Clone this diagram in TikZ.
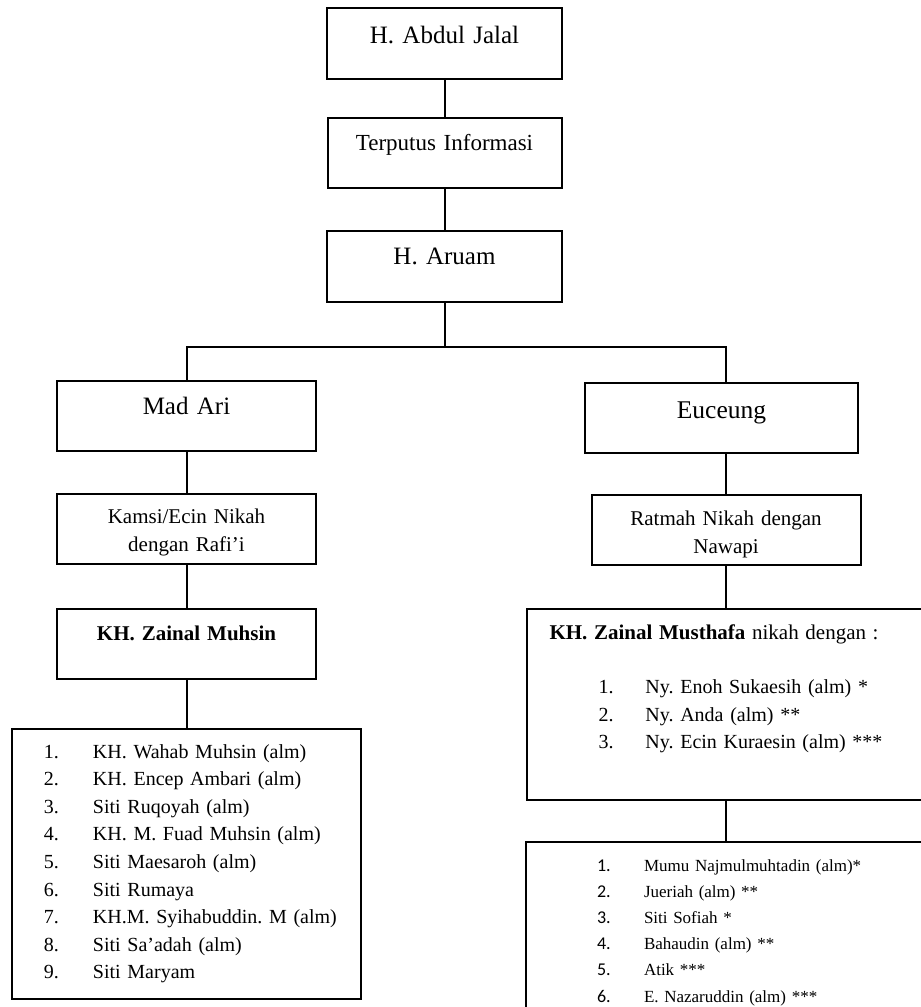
\documentclass[tikz,border=0pt]{standalone}
\usepackage{fontspec}
\setmainfont{Liberation Serif}
\newfontfamily\angka{Carlito}
\usetikzlibrary{positioning}
\frenchspacing
\tikzset{
    kotak/.style={draw, line width=2pt, inner sep=0pt, align=center}, % box round each name
    daftar/.style={kotak, align=left}, % box that holds a numbered list
    garis/.style={line width=2pt}, % plain connector line
}
% one line of a numbered list: indent, width of the number column, number, name
\newcommand{\butir}[4]{\hspace*{#1}\makebox[#2][l]{#3}#4}
\newcommand{\nomor}[1]{{\angka\fontsize{18}{26.2}\selectfont #1}}

\begin{document}
\begin{tikzpicture}[x=1pt, y=1pt]
    \useasboundingbox (0,0) rectangle (921,-1007);
    \clip (0,0) rectangle (921,-1007);
    \node[kotak, anchor=north west, text width=235pt, text height=35pt, text depth=36pt, font=\fontsize{25}{30}\selectfont] (abdul) at (326,-7) {H. Abdul Jalal};
    \node[kotak, below=37pt of abdul, text width=234pt, text height=32pt, text depth=38pt, font=\fontsize{23}{28}\selectfont] (terputus) {Terputus Informasi};
    \node[kotak, below=41pt of terputus, text width=235pt, text height=33pt, text depth=38pt, font=\fontsize{25}{30}\selectfont] (aruam) {H. Aruam};
    % left branch
    \node[kotak, anchor=north west, text width=259pt, text height=33pt, text depth=37pt, font=\fontsize{25}{30}\selectfont] (madari) at (56,-380) {Mad Ari};
    \node[kotak, below=41pt of madari, text width=259pt, text height=29pt, text depth=41pt, font=\fontsize{21}{28}\selectfont] (kamsi) {Kamsi/Ecin Nikah\\dengan Rafi’i};
    \node[kotak, below=43pt of kamsi, text width=259pt, text height=31pt, text depth=39pt, font=\fontsize{21}{28}\selectfont\bfseries] (muhsin) {KH. Zainal Muhsin};
    \node[daftar, below=48pt of muhsin, text width=349pt, text height=29pt, text depth=241pt, font=\fontsize{20}{27.6}\selectfont] (anakmuhsin) {%
        \butir{32pt}{49pt}{1.}{KH. Wahab Muhsin (alm)}\\
        \butir{32pt}{49pt}{2.}{KH. Encep Ambari (alm)}\\
        \butir{32pt}{49pt}{3.}{Siti Ruqoyah (alm)}\\
        \butir{32pt}{49pt}{4.}{KH. M. Fuad Muhsin (alm)}\\
        \butir{32pt}{49pt}{5.}{Siti Maesaroh (alm)}\\
        \butir{32pt}{49pt}{6.}{Siti Rumaya}\\
        \butir{32pt}{49pt}{7.}{KH.M. Syihabuddin. M (alm)}\\
        \butir{32pt}{49pt}{8.}{Siti Sa’adah (alm)}\\
        \butir{32pt}{49pt}{9.}{Siti Maryam}};
    % right branch
    \node[kotak, anchor=north west, text width=273pt, text height=35pt, text depth=35pt, font=\fontsize{25.5}{30}\selectfont] (euceung) at (584,-382) {Euceung};
    \node[kotak, below=40pt of euceung, xshift=4.5pt, text width=269pt, text height=30pt, text depth=40pt, font=\fontsize{21}{28}\selectfont] (ratmah) {Ratmah Nikah dengan\\Nawapi};
    \node[daftar, below=42pt of ratmah, text width=399pt, text height=30pt, text depth=161pt, font=\fontsize{20}{27.5}\selectfont] (musthafa) {%
        \hspace*{23pt}{\fontsize{21}{27.5}\selectfont\textbf{KH. Zainal Musthafa} nikah dengan :}\\[27pt]
        \butir{72pt}{47pt}{1.}{Ny. Enoh Sukaesih (alm) *}\\
        \butir{72pt}{47pt}{2.}{Ny. Anda (alm) **}\\
        \butir{72pt}{47pt}{3.}{Ny. Ecin Kuraesin (alm) ***}};
    \node[daftar, below=40pt of musthafa, text width=400pt, text height=29pt, text depth=176pt, font=\fontsize{17}{26.2}\selectfont] (anakmusthafa) {%
        \butir{71pt}{47pt}{\nomor{1.}}{Mumu Najmulmuhtadin (alm)*}\\
        \butir{71pt}{47pt}{\nomor{2.}}{Jueriah (alm) **}\\
        \butir{71pt}{47pt}{\nomor{3.}}{Siti Sofiah *}\\
        \butir{71pt}{47pt}{\nomor{4.}}{Bahaudin (alm) **}\\
        \butir{71pt}{47pt}{\nomor{5.}}{Atik ***}\\
        \butir{71pt}{47pt}{\nomor{6.}}{E. Nazaruddin (alm) ***}};
    \draw[garis]
        (abdul) -- (terputus)
        (terputus) -- (aruam)
        (madari) -- (kamsi)
        (kamsi) -- (muhsin)
        (muhsin) -- (anakmuhsin)
        (ratmah) -- (musthafa)
        (musthafa) -- (anakmusthafa);
    \draw[garis] (euceung.south -| ratmah.north) -- (ratmah.north);
    \draw[garis] (aruam.south) -- ++(0,-44) coordinate (cabang);
    \draw[garis] (madari.north) |- (cabang) -| (ratmah.north |- euceung.north);
\end{tikzpicture}
\end{document}
